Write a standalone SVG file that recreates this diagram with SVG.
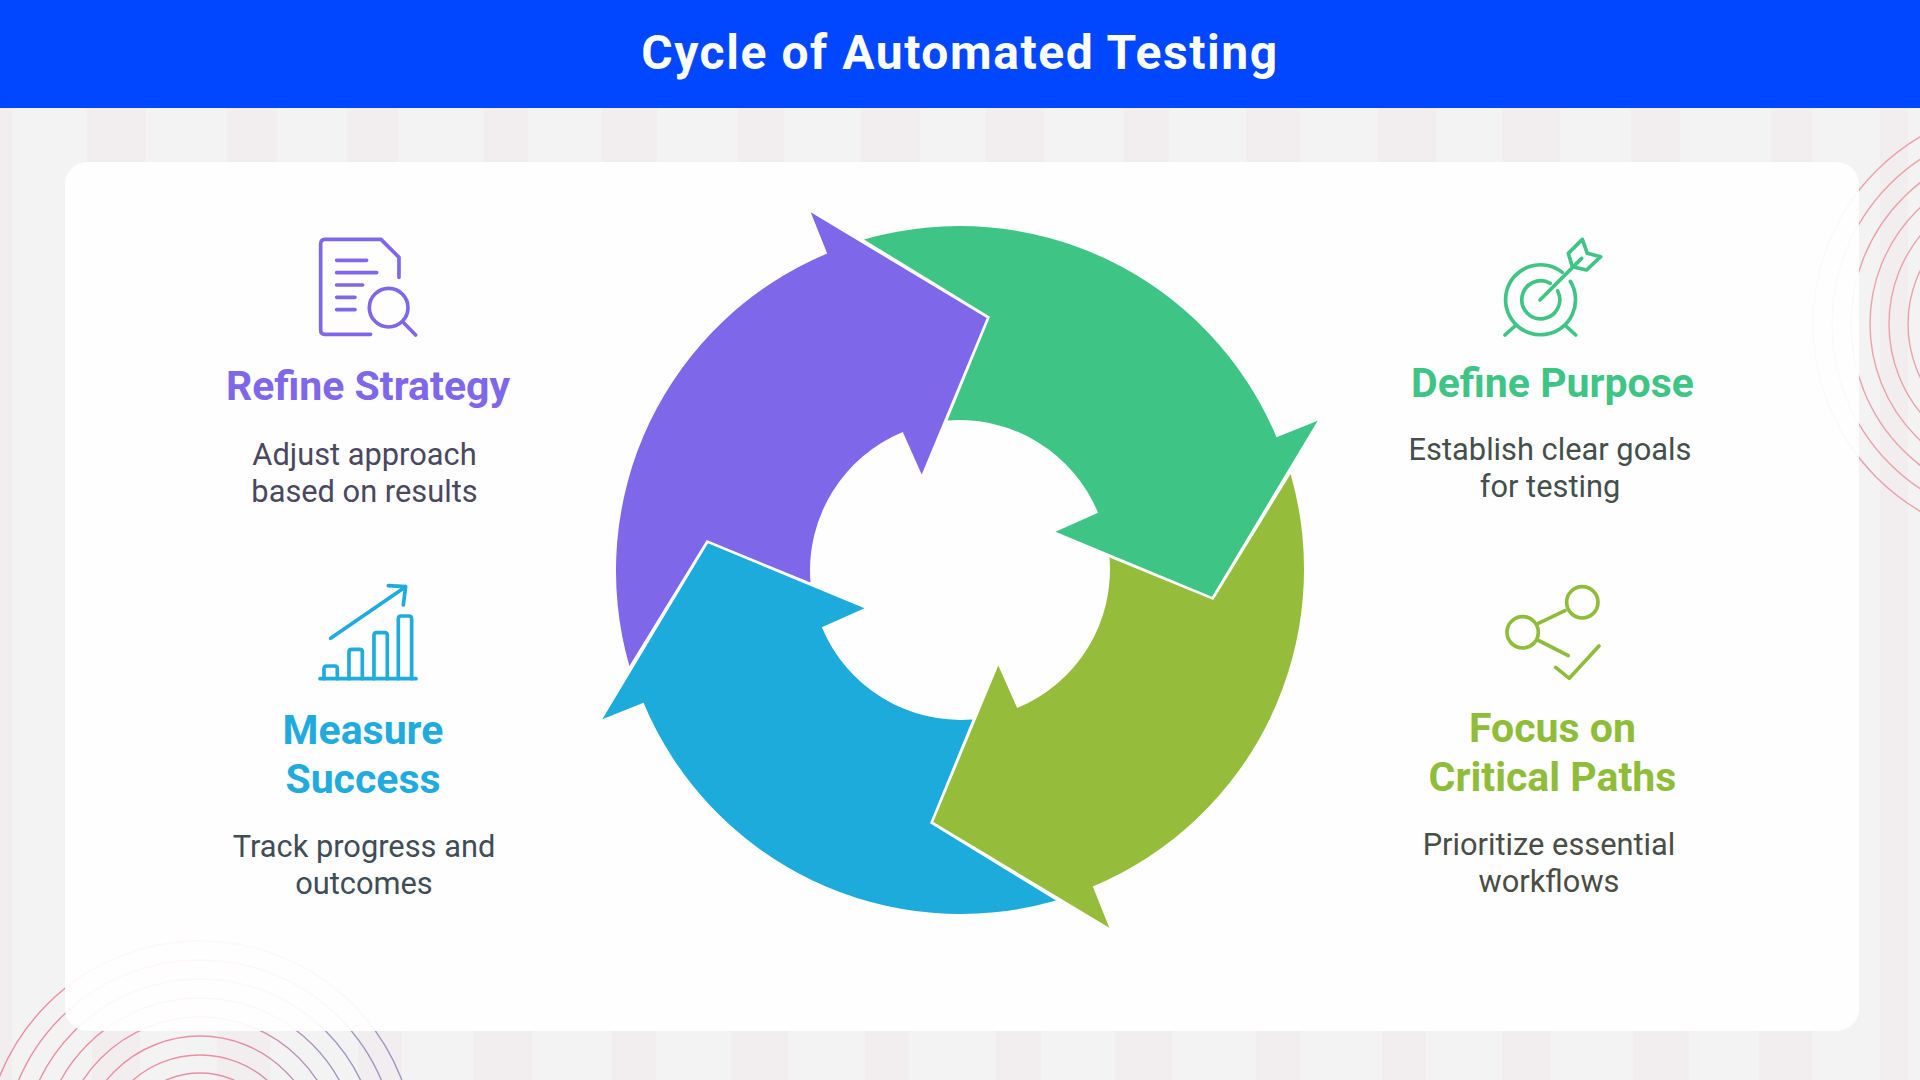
<svg xmlns="http://www.w3.org/2000/svg" width="1920" height="1080" viewBox="0 0 1920 1080">
<style>
.stripe{fill:#f2edee}
.ringbl{fill:none;stroke:url(#ringGrad);stroke-width:1.4}
.ringtr{fill:none;stroke:#e9a2aa;stroke-width:1.4}
.ttl{font-family:Roboto,"Liberation Sans",sans-serif;font-weight:700;font-size:41px;text-anchor:middle}
.dsc{font-family:Roboto,"Liberation Sans",sans-serif;font-weight:400;font-size:30.8px;text-anchor:middle}
.ico{fill:none;stroke-width:11;stroke-linecap:round;stroke-linejoin:round}
.purple{fill:#7f67ea}.green{fill:#3ec585}.olive{fill:#8fbd3a}.blue{fill:#1fabdd}
</style>
<defs>
<linearGradient id="ringGrad" gradientUnits="userSpaceOnUse" x1="230" y1="0" x2="340" y2="0">
<stop offset="0" stop-color="#ea8fa1"/><stop offset="1" stop-color="#9a97c9"/>
</linearGradient>
<path id="arrow" d="M-96,-330.6A344,344 0 0 1 316.5,-132.8L357.7,-149.3L252,26.7L95.5,-38.3L138.1,-57.2A150,150 0 0 0 -12.5,-149.5L30,-253.3Z"/>
</defs>
<rect width="1920" height="1080" fill="#f3f3f3"/>
<g id="background-stripes">
<g class="stripe">
<rect x="0" y="108" width="12" height="972"/><rect x="1880" y="108" width="28" height="972"/>
<rect x="87" y="108" width="59" height="54"/><rect x="227" y="108" width="50" height="54"/><rect x="347" y="108" width="51" height="54"/><rect x="484" y="108" width="44" height="54"/><rect x="602" y="108" width="55" height="54"/><rect x="738" y="108" width="46" height="54"/><rect x="861" y="108" width="59" height="54"/><rect x="986" y="108" width="58" height="54"/><rect x="1124" y="108" width="45" height="54"/><rect x="1246" y="108" width="54" height="54"/><rect x="1378" y="108" width="58" height="54"/><rect x="1502" y="108" width="58" height="54"/><rect x="1631" y="108" width="49" height="54"/><rect x="1771" y="108" width="41" height="54"/>
<rect x="92" y="1031" width="48" height="49"/><rect x="217" y="1031" width="53" height="49"/><rect x="358" y="1031" width="44" height="49"/><rect x="474" y="1031" width="58" height="49"/><rect x="612" y="1031" width="44" height="49"/><rect x="731" y="1031" width="57" height="49"/><rect x="865" y="1031" width="44" height="49"/><rect x="996" y="1031" width="45" height="49"/><rect x="1115" y="1031" width="57" height="49"/><rect x="1256" y="1031" width="44" height="49"/><rect x="1382" y="1031" width="44" height="49"/><rect x="1502" y="1031" width="48" height="49"/><rect x="1633" y="1031" width="56" height="49"/><rect x="1759" y="1031" width="53" height="49"/>
</g>
</g>
<g id="rings-bottom-left">
<circle class="ringbl" cx="200" cy="1157" r="216"/><circle class="ringbl" cx="200" cy="1157" r="197"/><circle class="ringbl" cx="200" cy="1157" r="178"/><circle class="ringbl" cx="200" cy="1157" r="159"/><circle class="ringbl" cx="200" cy="1157" r="140"/><circle class="ringbl" cx="200" cy="1157" r="121"/><circle class="ringbl" cx="200" cy="1157" r="102"/><circle class="ringbl" cx="200" cy="1157" r="84"/>
</g>
<g id="rings-top-right">
<circle class="ringtr" cx="2030" cy="324" r="217"/><circle class="ringtr" cx="2030" cy="324" r="198"/><circle class="ringtr" cx="2030" cy="324" r="179"/><circle class="ringtr" cx="2030" cy="324" r="160"/><circle class="ringtr" cx="2030" cy="324" r="141"/><circle class="ringtr" cx="2030" cy="324" r="122"/>
</g>
<rect id="card" x="65" y="162" width="1794" height="869" rx="22" fill="#fefefe" fill-opacity="0.94"/>
<g id="header">
<rect width="1920" height="108" fill="#0047ff"/>
<text x="960" y="68.5" font-family="Roboto,'Liberation Sans',sans-serif" font-weight="700" font-size="48" letter-spacing="1.55" text-anchor="middle" fill="#fff">Cycle of Automated Testing</text>
</g>
<g id="connectors"></g>
<g id="cycle" transform="translate(960,570)">
<use id="arrow-define" href="#arrow" class="green"/>
<use id="arrow-focus" href="#arrow" transform="rotate(90)" fill="#95bd3b"/>
<use id="arrow-measure" href="#arrow" transform="rotate(180)" fill="#1dabdc"/>
<use id="arrow-refine" href="#arrow" transform="rotate(270)" class="purple"/>
</g>
<g id="node-refine">
<g transform="translate(200,220) scale(.3333)" class="ico" stroke="#7f67ea">
<path d="M512,343H375Q362,343 362,330V72Q362,58 375,58H543L597,112V172"/>
<path d="M410,121H500M410,158H530M410,195H488M410,232H465M410,269H465"/>
<circle cx="566" cy="263" r="58"/><path d="M608,305L647,345"/>
</g>
<text class="ttl purple" x="368" y="400">Refine Strategy</text>
<text class="dsc" fill="#4a4860" x="364.5" y="464.5">Adjust approach</text>
<text class="dsc" fill="#4a4860" x="364.5" y="501.5">based on results</text>
</g>
<g id="node-define">
<g transform="translate(1380,220) scale(.3333)" class="ico" stroke="#3ec585">
<path d="M571,184A105,105 0 1 1 547,157"/>
<path d="M533,213A57,57 0 1 1 511,190"/>
<path d="M480,240L605,115"/>
<path d="M607,58L565,100L577,140L620,150L662,110L622,100Z"/>
<path d="M375,345L405,318M587,345L558,318"/>
</g>
<text class="ttl green" x="1552.5" y="397">Define Purpose</text>
<text class="dsc" fill="#444f4c" x="1550" y="460">Establish clear goals</text>
<text class="dsc" fill="#444f4c" x="1550" y="497">for testing</text>
</g>
<g id="node-measure">
<g transform="translate(200,570) scale(.3333)" class="ico" stroke="#1fabdd">
<path d="M392,205L617,50M565,47L617,50L610,105"/>
<path d="M360,326H648"/>
<path d="M372,326V296Q372,288 380,288H404Q412,288 412,296V326M447,326V246Q447,238 455,238H479Q487,238 487,246V326M522,326V196Q522,188 530,188H554Q562,188 562,196V326M595,326V146Q595,138 603,138H627Q635,138 635,146V326"/>
</g>
<text class="ttl blue" x="363" y="744">Measure</text>
<text class="ttl blue" x="363" y="793">Success</text>
<text class="dsc" fill="#3f4d56" x="364" y="857">Track progress and</text>
<text class="dsc" fill="#3f4d56" x="364" y="893.5">outcomes</text>
</g>
<g id="node-focus">
<g transform="translate(1380,570) scale(.3333)" class="ico" stroke="#8fbd3a">
<circle cx="428" cy="187" r="47"/><circle cx="607" cy="97" r="47"/>
<path d="M475,160L555,122M473,210L565,257M527,292L568,325L657,228"/>
</g>
<text class="ttl olive" x="1552.5" y="742">Focus on</text>
<text class="ttl olive" x="1552.5" y="791">Critical Paths</text>
<text class="dsc" fill="#4a4d45" x="1549" y="855">Prioritize essential</text>
<text class="dsc" fill="#4a4d45" x="1549" y="892">workflows</text>
</g>
</svg>
